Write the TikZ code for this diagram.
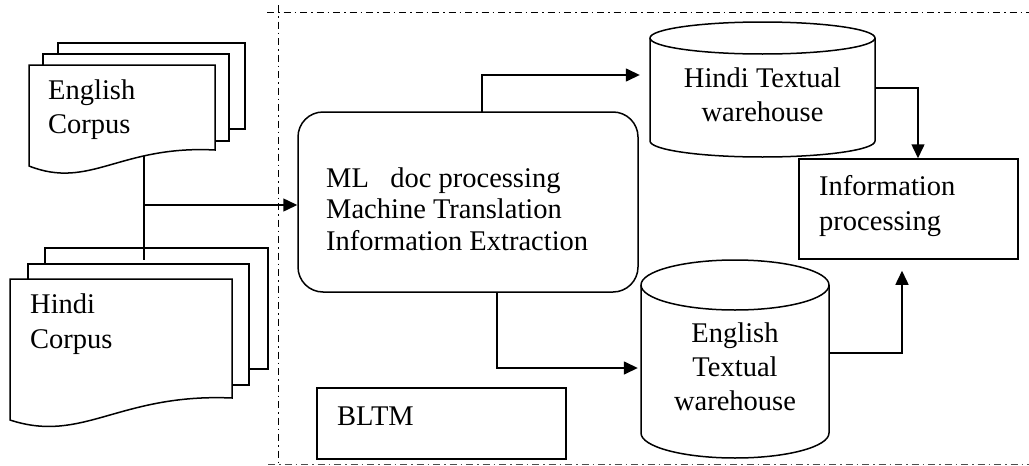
\documentclass[tikz,border=0pt]{standalone}
\usepackage{fontspec}
\setmainfont{Liberation Serif}
\usetikzlibrary{arrows.meta,calc}
\begin{document}
\begin{tikzpicture}[x=1pt,y=-1pt,
  ln/.style={line width=1.5pt,line join=miter},
  shp/.style={ln,fill=white},
  arr/.style={ln,-{Triangle[length=14pt,width=13pt]}},
  frame/.style={line width=1pt,dash pattern=on 7pt off 4pt on 1.5pt off 4pt},
  txt/.style={anchor=base west,inner sep=0pt,font=\fontsize{28.5}{34}\selectfont},
  ctxt/.style={inner sep=0pt,align=center,font=\fontsize{28.5}{34}\selectfont},
  box/.style={ln,draw,fill=white,inner sep=0pt}]
\useasboundingbox (0,0) rectangle (1029,466);
\fill[white] (0,0) rectangle (1029,466);
% frame
\coordinate (ftl) at (267,12);
\coordinate (ftr) at (1029,12);
\coordinate (fvt) at (278,5);
\coordinate (fvb) at (278,466);
\coordinate (fbl) at (268,464);
\coordinate (fbr) at (1029,464);
\draw[frame] (ftl) -- (ftr);
\draw[frame] (fvt) -- (fvb);
\draw[frame,draw=black!70] (fbl) -- (fbr);
% English corpus stack
\draw[shp] (58,43) rectangle (245,129);
\draw[shp] (43,54) rectangle (229,141);
\draw[shp] (29,65) -- (215,65) -- (215,150) .. controls (120,145) and (90,190) .. (29,166) -- cycle;
\node[txt] (ec1) at (48,99) {English};
\node[txt] (ec2) at (48,133) {Corpus};
% Hindi corpus stack
\draw[shp] (45,248) rectangle (268,369);
\draw[shp] (28,264) rectangle (249,385);
\draw[shp] (10,279) -- (232,279) -- (232,398) .. controls (119,393) and (83,444) .. (10,420) -- cycle;
\node[txt] (hc1) at (30,313) {Hindi};
\node[txt] (hc2) at (30,348) {Corpus};
% ML processing box
\node[box,rounded corners=25pt,minimum width=340pt,minimum height=180pt] (ml) at (468,202) {};
\node[txt] (ml1) at (326,187) {ML~~~doc processing};
\node[txt] (ml2) at (326,218) {Machine Translation};
\node[txt] (ml3) at (326,250) {Information Extraction};
% BLTM box
\node[box,minimum width=249pt,minimum height=71pt] (bltm) at (441.5,423.5) {};
\node[txt] (bltmt) at (337,425) {BLTM};
% Information processing box
\node[box,minimum width=219pt,minimum height=100pt] (ip) at (908.5,209) {};
\node[txt] (ip1) at (819,195) {Information};
\node[txt] (ip2) at (819,230) {processing};
% Hindi textual warehouse cylinder
\node[inner sep=0pt,minimum width=225pt,minimum height=135pt] (hw) at (762.5,89.5) {};
\draw[shp] (650,38) -- (650,141) arc[start angle=180,end angle=0,x radius=112.5,y radius=16] -- (875,38) arc[start angle=0,end angle=-180,x radius=112.5,y radius=16] -- cycle;
\draw[ln] (650,38) arc[start angle=180,end angle=0,x radius=112.5,y radius=16];
\node[ctxt] (hwt) at (762.5,95) {Hindi Textual\\warehouse};
% English textual warehouse cylinder
\node[inner sep=0pt,minimum width=188pt,minimum height=198pt] (ew) at (735,359) {};
\draw[shp] (641,285) -- (641,433) arc[start angle=180,end angle=0,x radius=94,y radius=25] -- (829,285) arc[start angle=0,end angle=-180,x radius=94,y radius=25] -- cycle;
\draw[ln] (641,285) arc[start angle=180,end angle=0,x radius=94,y radius=25];
\node[ctxt] (ewt) at (735,367) {English\\Textual\\warehouse};
% connectors
\coordinate (ecb) at (144,156);
\coordinate (hct) at (144,260);
\coordinate (j) at (144,205);
\draw[ln] (ecb) -- (hct);
\draw[arr] (j) -- (j -| ml.west);
\coordinate (mlt) at (482,112);
\coordinate (mltu) at (482,75);
\draw[arr,shorten >=10pt] (mlt) -- (mltu) -- (mltu -| hw.west);
\coordinate (hwr) at (875,88);
\draw[arr] (hwr) -| (ip.north -| 918,0);
\coordinate (ewr) at (829,353);
\draw[arr,shorten >=11pt] (ewr) -| (ip.south -| 902,0);
\coordinate (mlb) at (497,292);
\coordinate (mlbd) at (497,368);
\draw[arr,shorten >=3pt] (mlb) -- (mlbd) -- (mlbd -| ew.west);
\end{tikzpicture}
\end{document}
